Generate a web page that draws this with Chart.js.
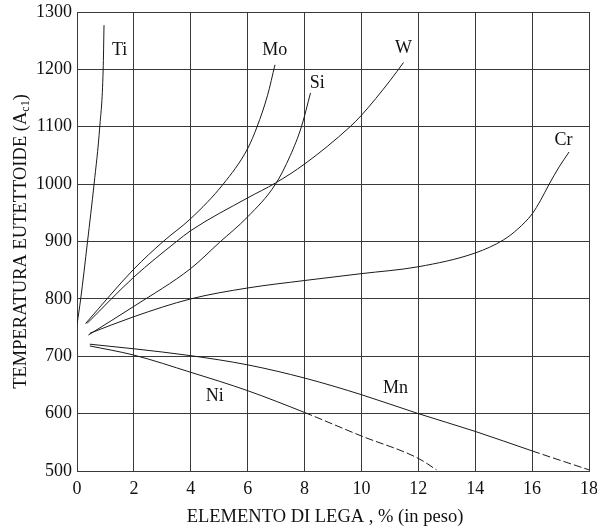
<!DOCTYPE html>
<html>
<head>
<meta charset="utf-8">
<script src="https://cdn.jsdelivr.net/npm/chart.js@4/dist/chart.umd.min.js"></script>
<style>
html,body{margin:0;padding:0;background:#fff;}
#wrap{width:597px;height:529px;}
</style>
</head>
<body>
<div id="wrap"><canvas id="c" width="597" height="529"></canvas></div>
<script>
// ---- data ----
const xTicks = [0, 2, 4, 6, 8, 10, 12, 14, 16, 18];
const yTicks = [500, 600, 700, 800, 900, 1000, 1100, 1200, 1300];

const tiX = [0, 0.13, 0.37, 0.6, 0.8, 0.92, 0.95];
const tiY = [755, 800, 900, 1000, 1100, 1200, 1277];

const moX = [0.3, 2, 3.03, 4, 5.14, 6, 6.33, 6.7, 6.96];
const moY = [757, 852, 900, 940, 1000, 1062, 1100, 1155, 1208];

const siX = [0.4, 2, 4, 5.0, 6, 6.98, 7.5, 7.89, 8.21];
const siY = [737, 787, 853, 898, 943, 1000, 1050, 1100, 1159];

const wX = [0.35, 2, 3.5, 4, 6, 6.98, 8, 9.6, 10, 11, 11.48];
const wY = [757, 838, 900, 919, 976, 1002, 1035, 1100, 1120, 1180, 1212];

const crX = [0.45, 2, 4, 6, 8, 10, 12, 14, 15, 15.5, 16, 16.3, 16.6, 16.95, 17.3];
const crY = [740, 769, 800, 819, 832, 844, 856, 880, 903, 922, 948, 972, 1000, 1030, 1056];

const mnX = [0.45, 2, 4, 6, 8, 10, 12, 14, 16, 18];
const mnY = [721, 713, 701, 685, 662, 633, 600, 569, 535, 502];

const niX = [0.45, 2, 4, 6, 8, 10, 12, 12.64];
const niY = [718, 702, 672, 640, 602, 561, 522, 502];

const dashFromMn = 15;
const dashFromNi = 8;

const labels = [
  {t: 'Ti', x: 1.5, y: 1234},
  {t: 'Mo', x: 6.95, y: 1234},
  {t: 'Si', x: 8.45, y: 1175},
  {t: 'W',  x: 11.48, y: 1236},
  {t: 'Cr', x: 17.1, y: 1077},
  {t: 'Mn', x: 11.2, y: 644},
  {t: 'Ni', x: 4.84, y: 630}
];

const xTitle = 'ELEMENTO DI LEGA , % (in peso)';
const yTitleMain = 'TEMPERATURA EUTETTOIDE (A';
const yTitleSub = 'c1';
const yTitleEnd = ')';

// ---- build ----
const FONT = "'Liberation Serif', 'Times New Roman', serif";
const LINE = '#1a1a1a';
const GRID = '#3a3a3a';

function pts(xs, ys) { return xs.map((x, i) => ({x: x, y: ys[i]})); }

function series(xs, ys, dashFrom) {
  const ds = {
    data: pts(xs, ys),
    borderColor: LINE,
    borderWidth: 1,
    pointRadius: 0,
    fill: false,
    cubicInterpolationMode: 'monotone'
  };
  if (dashFrom !== undefined) {
    ds.segment = {
      borderDash: ctx => (ctx.p0.parsed.x >= dashFrom ? [8, 3] : undefined)
    };
  }
  return ds;
}

const annot = {
  id: 'annot',
  afterDraw(chart) {
    const {ctx, scales: {x, y}, chartArea} = chart;
    ctx.save();
    ctx.fillStyle = '#111';
    ctx.textAlign = 'center';
    ctx.textBaseline = 'middle';
    ctx.font = '18px ' + FONT;
    labels.forEach(l => ctx.fillText(l.t, x.getPixelForValue(l.x), y.getPixelForValue(l.y)));

    // x title
    ctx.font = '18.5px ' + FONT;
    ctx.fillText(xTitle, (chartArea.left + chartArea.right) / 2 - 8, 517);

    // y title with subscript
    const mainF = '18.5px ' + FONT;
    const subF = '12px ' + FONT;
    ctx.font = mainF;
    const w1 = ctx.measureText(yTitleMain).width;
    const w3 = ctx.measureText(yTitleEnd).width;
    ctx.font = subF;
    const w2 = ctx.measureText(yTitleSub).width;
    const total = w1 + w2 + w3;
    ctx.translate(20, (chartArea.top + chartArea.bottom) / 2);
    ctx.rotate(-Math.PI / 2);
    ctx.textAlign = 'left';
    ctx.textBaseline = 'alphabetic';
    let sx = -total / 2;
    const base = 6;
    ctx.font = mainF;
    ctx.fillText(yTitleMain, sx, base);
    sx += w1;
    ctx.font = subF;
    ctx.fillText(yTitleSub, sx, base + 3);
    sx += w2;
    ctx.font = mainF;
    ctx.fillText(yTitleEnd, sx, base);
    ctx.restore();
  }
};

new Chart(document.getElementById('c'), {
  type: 'line',
  data: {
    datasets: [
      series(tiX, tiY),
      series(moX, moY),
      series(siX, siY),
      series(wX, wY),
      series(crX, crY),
      series(mnX, mnY, dashFromMn),
      series(niX, niY, dashFromNi)
    ]
  },
  options: {
    responsive: false,
    animation: false,
    events: [],
    layout: {padding: {top: 12, right: 0, left: 0, bottom: 0}},
    plugins: {legend: {display: false}, tooltip: {enabled: false}, title: {display: false}},
    scales: {
      x: {
        type: 'linear',
        min: 0, max: 18,
        afterBuildTicks: s => { s.ticks = xTicks.map(v => ({value: v})); },
        afterFit: s => { s.height = 58; s.paddingLeft = 0; s.paddingRight = 8; },
        grid: {color: GRID, lineWidth: 1, drawTicks: false},
        border: {color: GRID, width: 1},
        ticks: {color: '#111', font: {family: FONT, size: 18}, padding: 7, maxRotation: 0,
                callback: v => String(v)}
      },
      y: {
        type: 'linear',
        min: 500, max: 1300,
        afterBuildTicks: s => { s.ticks = yTicks.map(v => ({value: v})); },
        afterFit: s => { s.width = 77; s.paddingTop = 0; s.paddingBottom = 0; },
        grid: {color: GRID, lineWidth: 1, drawTicks: false},
        border: {color: GRID, width: 1},
        ticks: {color: '#111', font: {family: FONT, size: 18}, padding: 5,
                callback: v => String(v)}
      }
    }
  },
  plugins: [annot]
});
</script>
</body>
</html>
